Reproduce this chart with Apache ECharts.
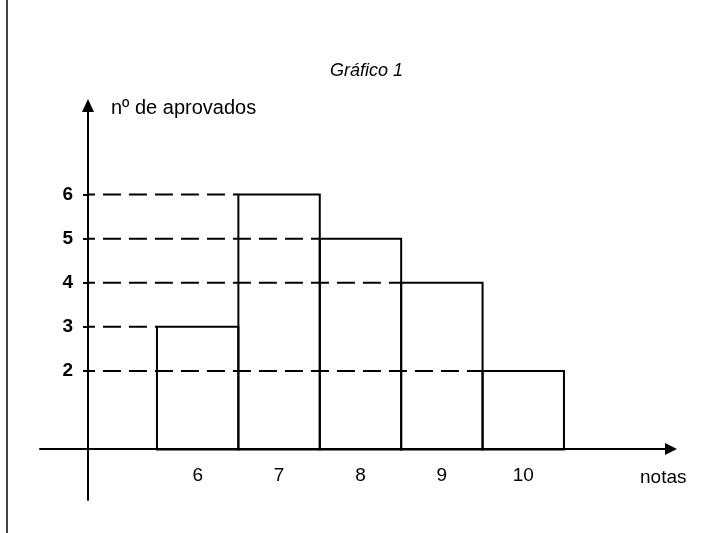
<!DOCTYPE html>
<html>
<head>
<meta charset="utf-8">
<script src="https://cdn.jsdelivr.net/npm/echarts@6/dist/echarts.min.js"></script>
<style>
  html, body { margin: 0; padding: 0; background: #fff; }
  #chart { width: 716px; height: 533px; }
</style>
</head>
<body>
<div id="chart"></div>
<script>
// notas (eixo x) e nº de aprovados (eixo y)
const notas = [6, 7, 8, 9, 10];
const aprovados = [3, 6, 5, 4, 2];
const yTicks = [2, 3, 4, 5, 6];

// onde os eixos se cruzam (em valores)
const Y_AXIS_AT = 4.652;   // valor de x onde fica o eixo vertical
const X_AXIS_AT = 0.22;    // valor de y onde fica o eixo horizontal

const font = "'Liberation Sans', Arial, sans-serif";

const chart = echarts.init(document.getElementById('chart'));

const barData = notas.map((n, i) => [n, aprovados[i]]);

const option = {
  backgroundColor: '#fff',
  animation: false,
  grid: {
    left: 40,
    right: 45,
    top: 105.5,
    bottom: 33,
    containLabel: false,
    outerBoundsMode: 'none'
  },
  xAxis: {
    type: 'value',
    min: 4.063,
    max: 11.815,
    offset: -51,
    splitLine: { show: false },
    axisLine: {
      show: true,
      lineStyle: { color: '#000', width: 2 },
      symbol: ['none', 'triangle'],
      symbolSize: [12, 12]
    },
    axisTick: { show: false },
    axisLabel: {
      customValues: notas,
      margin: 17,
      color: '#000',
      fontFamily: font,
      fontSize: 19
    }
  },
  yAxis: {
    type: 'value',
    min: -0.928,
    max: 8.021,
    offset: -48,
    splitLine: { show: false },
    axisLine: {
      show: true,
      lineStyle: { color: '#000', width: 2 },
      symbol: ['none', 'triangle'],
      symbolSize: [12, 13]
    },
    axisTick: {
      show: true,
      customValues: yTicks,
      length: 5,
      lineStyle: { color: '#000', width: 2 }
    },
    axisLabel: {
      customValues: yTicks,
      margin: 15,
      color: '#000',
      fontFamily: font,
      fontWeight: 'bold',
      fontSize: 19
    }
  },
  series: [
    {
      // linhas tracejadas do eixo até a barra
      type: 'custom',
      z: 3,
      data: barData,
      encode: { x: 0, y: 1 },
      renderItem: function (params, api) {
        const n = api.value(0);
        const v = api.value(1);
        const p0 = api.coord([Y_AXIS_AT, v]);
        const p1 = api.coord([n - 0.5, v]);
        return {
          type: 'line',
          shape: { x1: p0[0], y1: p0[1], x2: p1[0], y2: p1[1] },
          style: {
            stroke: '#000',
            lineWidth: 2,
            lineDash: [18, 8],
            lineDashOffset: 11
          }
        };
      }
    },
    {
      // barras (histograma)
      type: 'custom',
      z: 4,
      data: barData,
      encode: { x: 0, y: 1 },
      renderItem: function (params, api) {
        const n = api.value(0);
        const v = api.value(1);
        const a = api.coord([n - 0.5, v]);
        const b = api.coord([n + 0.5, X_AXIS_AT]);
        return {
          type: 'rect',
          shape: { x: a[0], y: a[1], width: b[0] - a[0], height: b[1] - a[1] },
          style: { fill: 'none', stroke: '#000', lineWidth: 2 }
        };
      }
    }
  ],
  graphic: [
    {
      type: 'line',
      shape: { x1: 7, y1: 0, x2: 7, y2: 533 },
      style: { stroke: '#444', lineWidth: 2 }
    },
    {
      type: 'text',
      left: 330,
      top: 62,
      style: {
        text: 'Gráfico 1',
        fill: '#000',
        font: 'italic 18px ' + font
      }
    },
    {
      type: 'text',
      x: 111,
      y: 108,
      style: {
        text: 'nº de aprovados',
        fill: '#000',
        font: '20px ' + font,
        verticalAlign: 'middle'
      }
    },
    {
      type: 'text',
      x: 640,
      y: 478,
      style: {
        text: 'notas',
        fill: '#000',
        font: '19px ' + font,
        verticalAlign: 'middle'
      }
    }
  ]
};

chart.setOption(option);
</script>
</body>
</html>
